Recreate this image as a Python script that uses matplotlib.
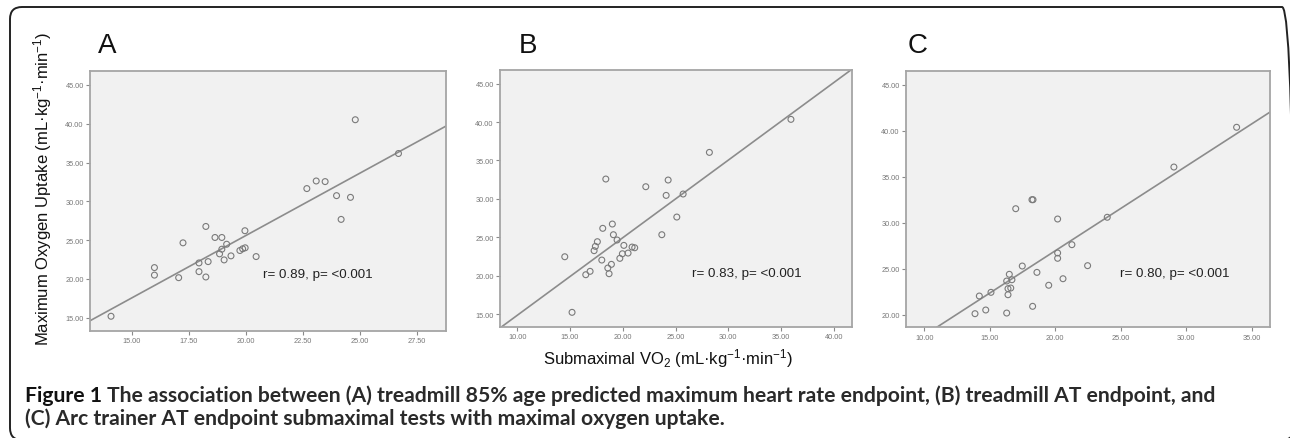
import matplotlib
matplotlib.use("Agg")
import matplotlib.pyplot as plt
from matplotlib.patches import FancyBboxPatch
from matplotlib.transforms import IdentityTransform

plt.rcParams['font.family'] = ['Liberation Sans', 'DejaVu Sans']
plt.rcParams['mathtext.fontset'] = 'custom'
plt.rcParams['mathtext.rm'] = 'Liberation Sans'
plt.rcParams['mathtext.it'] = 'Liberation Sans:italic'
plt.rcParams['mathtext.bf'] = 'Liberation Sans:bold'

# panel A: treadmill 85% APMHR endpoint
a_x = [14.1, 16.0, 16.0, 17.06, 17.25, 17.95, 17.95, 18.25, 18.25, 18.35,
       18.65, 18.85, 18.95, 18.95, 19.05, 19.16, 19.35, 19.74, 19.86, 19.97,
       19.96, 20.45, 22.67, 23.08, 23.47, 23.97, 24.17, 24.58, 24.79, 26.68]
a_y = [15.2, 21.47, 20.5, 20.17, 24.66, 22.07, 20.95, 26.77, 20.26, 22.24,
       25.35, 23.24, 25.35, 23.84, 22.46, 24.48, 22.98, 23.67, 23.89, 24.02,
       26.22, 22.89, 31.65, 32.63, 32.55, 30.74, 27.68, 30.52, 40.52, 36.17]

# panel B: treadmill AT endpoint
b_x = [14.5, 15.19, 16.49, 16.9, 17.28, 17.4, 17.59, 18.01, 18.1, 18.39,
       18.58, 18.7, 18.92, 19.01, 19.11, 19.46, 19.72, 19.96, 20.1, 20.5,
       20.88, 21.13, 22.18, 23.7, 24.11, 24.3, 25.12, 25.72, 28.21, 35.94]
b_y = [22.46, 15.22, 20.12, 20.56, 23.25, 23.81, 24.42, 22.03, 26.16, 32.58,
       20.99, 20.25, 21.47, 26.72, 25.33, 24.64, 22.25, 22.85, 23.94, 22.94,
       23.72, 23.63, 31.58, 25.33, 30.45, 32.45, 27.63, 30.63, 36.05, 40.35]

# panel C: Arc trainer AT endpoint
c_x = [13.87, 14.2, 14.69, 15.09, 16.29, 16.29, 16.39, 16.39, 16.49, 16.6,
       16.69, 16.98, 17.48, 18.22, 18.3, 18.27, 18.6, 19.5, 20.18, 20.18,
       20.18, 20.59, 21.27, 22.47, 23.97, 29.06, 33.85]
c_y = [20.11, 22.03, 20.51, 22.43, 20.18, 23.66, 22.17, 22.83, 24.39, 22.9,
       23.8, 31.52, 25.29, 32.5, 32.5, 20.91, 24.6, 23.2, 30.4, 26.71,
       26.13, 23.91, 27.61, 25.33, 30.59, 36.05, 40.37]

# fit lines (intercept, slope)
fits = [(-6.60, 1.61), (4.74, 1.01), (8.57, 0.919)]
stats = ['r= 0.89, p= <0.001', 'r= 0.83, p= <0.001', 'r= 0.80, p= <0.001']
letters = ['A', 'B', 'C']

xticks = [[15, 17.5, 20, 22.5, 25, 27.5],
          [10, 15, 20, 25, 30, 35, 40],
          [10, 15, 20, 25, 30, 35]]
yticks = [[15, 20, 25, 30, 35, 40, 45],
          [15, 20, 25, 30, 35, 40, 45],
          [20, 25, 30, 35, 40, 45]]
xlims = [(13.18, 28.76), (8.36, 41.7), (8.6, 36.4)]
ylims = [(13.3, 46.8), (13.35, 46.74), (18.63, 46.52)]

caption_head = 'Figure 1'
caption_l1 = ('The association between (A) treadmill 85% age predicted maximum heart rate '
              'endpoint, (B) treadmill AT endpoint, and')
caption_l2 = '(C) Arc trainer AT endpoint submaximal tests with maximal oxygen uptake.'

W, H = 1290, 439
fig = plt.figure(figsize=(W / 100, H / 100), dpi=100)

boxes = [(90, 72, 446, 332), (500, 71.3, 851.7, 327.7), (906, 71.7, 1270, 328.3)]
letter_x = [98, 519, 908]
stat_pos = [(0.486, 0.219), (0.545, 0.209), (0.588, 0.212)]
data = [(a_x, a_y), (b_x, b_y), (c_x, c_y)]

for i, (l, t, r, b) in enumerate(boxes):
    ax = fig.add_axes([l / W, (H - b) / H, (r - l) / W, (b - t) / H])
    ax.set_facecolor('#f1f1f1')
    xs, ys = data[i]
    ax.scatter(xs, ys, s=18, facecolors='none', edgecolors='#7a7a7a',
               linewidths=0.8, zorder=3)
    b0, m = fits[i]
    ax.axline((0, b0), slope=m, color='#8c8c8c', lw=1.2, zorder=2)
    ax.set_xlim(*xlims[i])
    ax.set_ylim(*ylims[i])
    ax.set_xticks(xticks[i])
    ax.set_yticks(yticks[i])
    ax.set_xticklabels([f'{v:.2f}' for v in xticks[i]])
    ax.set_yticklabels([f'{v:.2f}' for v in yticks[i]])
    ax.tick_params(direction='out', length=3, width=0.8, color='#8a8a8a',
                   labelsize=5.3, labelcolor='#777777', pad=1.5)
    for sp in ax.spines.values():
        sp.set_color('#a5a5a5')
        sp.set_linewidth(1.3)
    ax.text(stat_pos[i][0], stat_pos[i][1], stats[i], transform=ax.transAxes,
            ha='left', va='center', fontsize=9.6, color='#222222')
    fig.text(letter_x[i] / W, (H - 53) / H, letters[i], fontsize=20,
             ha='left', va='baseline', color='#111111')

fig.text(43 / W, (H - 188.5) / H,
         r'Maximum Oxygen Uptake (mL·kg$^{\mathregular{-1}}$·min$^{\mathregular{-1}}$)',
         rotation=90, ha='center', va='center', fontsize=12, color='#111111')
fig.text(667.8 / W, (H - 359) / H,
         r'Submaximal VO$_{\mathregular{2}}$ (mL·kg$^{\mathregular{-1}}$·min$^{\mathregular{-1}}$)',
         ha='center', va='center', fontsize=12, color='#111111')

# caption: pick a size so that line 1 spans about x=25..1225 px
cap_font = ['Lato', 'DejaVu Sans']
renderer = fig.canvas.get_renderer()
fs = 14
t1 = fig.text(25 / W, (H - 401.7) / H, caption_head, fontsize=fs, fontweight='bold',
              family=cap_font, color='#111111', va='baseline')
t2 = fig.text(0, (H - 401.7) / H, caption_l1, fontsize=fs, fontweight='bold',
              family=cap_font, color='#2a2a2a', va='baseline')
w_tot = t1.get_window_extent(renderer).width + 5 + t2.get_window_extent(renderer).width
fs = fs * 1200 / w_tot
t1.set_fontsize(fs)
t2.set_fontsize(fs)
bb = t1.get_window_extent(renderer)
t2.set_x((bb.x1 + 5) / W)
fig.text(25 / W, (H - 424.7) / H, caption_l2, fontsize=fs, fontweight='bold',
         family=cap_font, color='#2a2a2a', va='baseline')

# rounded outer frame
frame = FancyBboxPatch((10, -2), 1284, H - 8 + 2, boxstyle='round,pad=0,rounding_size=12',
                       transform=IdentityTransform(), fill=False, ec='#222222', lw=1.4)
fig.add_artist(frame)

fig.savefig('out.png', dpi=100)
